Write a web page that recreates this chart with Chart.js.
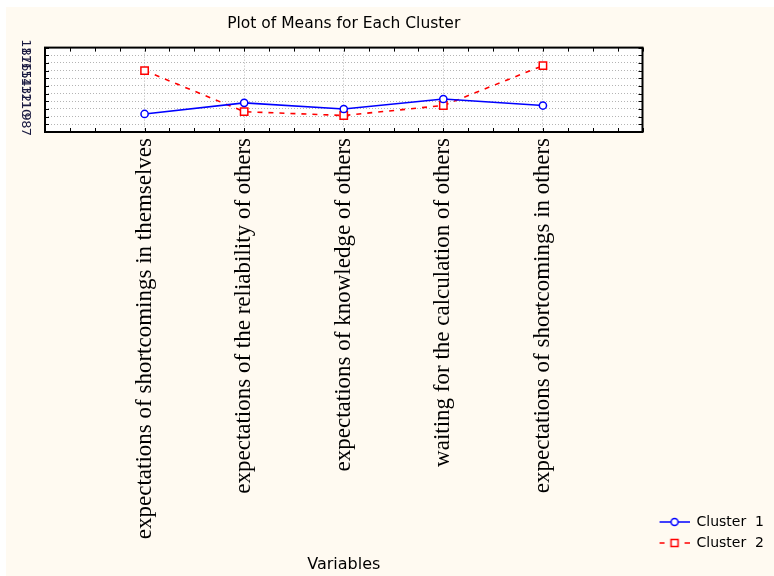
<!DOCTYPE html>
<html>
<head>
<meta charset="utf-8">
<script src="https://cdn.jsdelivr.net/npm/chart.js@4.4.1/dist/chart.umd.min.js"></script>
<style>
  html, body { margin: 0; padding: 0; background: #fff; }
  #wrap { position: absolute; left: 6px; top: 7px; width: 768px; height: 569px; background: #fffaf1; }
</style>
</head>
<body>
<div id="wrap"><canvas id="myChart"></canvas></div>
<script>
// values
const variables = [
  'expectations of shortcomings in themselves',
  'expectations of the reliability of others',
  'expectations of knowledge of others',
  'waiting for the calculation of others',
  'expectations of shortcomings in others'
];
const cluster1 = [9.35, 10.8, 10.0, 11.3, 10.45];
const cluster2 = [15.0, 9.65, 9.15, 10.45, 15.65];
const seriesNames = ['Cluster  1', 'Cluster  2'];
const yMin = 7;
const yMax = 18;

const dotGrid = '#b4b4b4';
const sans = 'DejaVu Sans';

// categories sit at x = 1..5 on an axis running 0..6
function toPoints(values) {
  return values.map((v, i) => ({ x: i + 1, y: v }));
}

// small line + marker picture for the legend
function legendMark(color, dashed, shape) {
  const c = document.createElement('canvas');
  c.width = 40;
  c.height = 14;
  const g = c.getContext('2d');
  g.strokeStyle = color;
  g.lineWidth = 1.5;
  g.beginPath();
  if (dashed) {
    g.moveTo(10, 7); g.lineTo(15, 7);
    g.moveTo(35, 7); g.lineTo(40, 7);
  } else {
    g.moveTo(10, 7); g.lineTo(40, 7);
  }
  g.stroke();
  g.fillStyle = '#fff';
  g.beginPath();
  if (shape === 'circle') {
    g.arc(25, 7, 3.5, 0, Math.PI * 2);
  } else {
    g.rect(21.5, 3.5, 7, 7);
  }
  g.fill();
  g.stroke();
  return c;
}
const legendMarks = [legendMark('#0000ff', false, 'circle'), legendMark('#ff0000', true, 'rect')];

// white plot area, black frame and the little inner tick marks
const framePlugin = {
  id: 'frame',
  beforeDraw(chart) {
    const { ctx, chartArea: a } = chart;
    ctx.save();
    ctx.fillStyle = '#fff';
    ctx.fillRect(a.left, a.top, a.right - a.left, a.bottom - a.top);
    ctx.restore();
  },
  afterDraw(chart) {
    const { ctx, chartArea: a, scales: { x, y } } = chart;
    ctx.save();
    ctx.strokeStyle = '#000';
    ctx.lineWidth = 1;
    ctx.beginPath();
    for (let v = 0; v <= 6; v += 0.25) {
      const px = Math.round(x.getPixelForValue(v)) + 0.5;
      ctx.moveTo(px, a.top); ctx.lineTo(px, a.top + 4);
      ctx.moveTo(px, a.bottom); ctx.lineTo(px, a.bottom - 4);
    }
    for (let v = yMin; v <= yMax; v++) {
      const py = Math.round(y.getPixelForValue(v)) + 0.5;
      ctx.moveTo(a.left, py); ctx.lineTo(a.left + 4, py);
      ctx.moveTo(a.right, py); ctx.lineTo(a.right - 4, py);
    }
    ctx.stroke();
    ctx.lineWidth = 2;
    ctx.strokeRect(a.left, a.top, a.right - a.left, a.bottom - a.top);
    ctx.restore();
  }
};

const ctx = document.getElementById('myChart').getContext('2d');
new Chart(ctx, {
  type: 'line',
  data: {
    datasets: [{
      label: seriesNames[0],
      data: toPoints(cluster1),
      borderColor: '#0000ff',
      borderWidth: 1.6,
      pointStyle: 'circle',
      pointRadius: 3.6,
      pointBorderWidth: 1.5,
      pointBackgroundColor: '#fff',
      tension: 0
    }, {
      label: seriesNames[1],
      data: toPoints(cluster2),
      borderColor: '#ff0000',
      borderWidth: 1.6,
      borderDash: [5, 6],
      pointStyle: 'rect',
      pointRadius: 5.2,
      pointBorderWidth: 1.5,
      pointBackgroundColor: '#fff',
      tension: 0
    }]
  },
  options: {
    responsive: true,
    maintainAspectRatio: false,
    animation: false,
    layout: { padding: { left: 0, right: 0, top: 0, bottom: 19 } },
    plugins: {
      title: {
        display: true,
        text: 'Plot of Means for Each Cluster',
        fullSize: false,
        color: '#000',
        font: { family: sans, size: 15.5, weight: 'normal' },
        padding: { top: 8, bottom: 14 }
      },
      legend: {
        position: 'right',
        align: 'end',
        labels: {
          usePointStyle: true,
          pointStyleWidth: 40,
          padding: 7,
          color: '#000',
          font: { family: sans, size: 14 },
          generateLabels: chart => chart.data.datasets.map((ds, i) => ({
            text: ds.label,
            pointStyle: legendMarks[i],
            fillStyle: 'transparent',
            strokeStyle: 'transparent',
            lineWidth: 0,
            fontColor: '#000',
            hidden: false,
            datasetIndex: i
          }))
        }
      },
      tooltip: { enabled: false }
    },
    scales: {
      x: {
        type: 'linear',
        min: 0,
        max: 6,
        afterFit: scale => { scale.height = 425; },
        ticks: {
          stepSize: 1,
          autoSkip: false,
          minRotation: 90,
          maxRotation: 90,
          padding: 6,
          color: '#000',
          font: { family: 'Liberation Serif', size: 23 },
          callback: v => variables[v - 1] || ''
        },
        grid: {
          drawTicks: false,
          color: c => (c.tick && c.tick.value >= 1 && c.tick.value <= 5) ? dotGrid : 'rgba(0,0,0,0)'
        },
        border: { display: false, dash: [1, 2] },
        title: {
          display: true,
          text: 'Variables',
          color: '#000',
          font: { family: sans, size: 16 },
          padding: { top: 0, bottom: -17 }
        }
      },
      y: {
        min: yMin,
        max: yMax,
        afterFit: scale => { scale.width = 39; },
        ticks: {
          stepSize: 1,
          autoSkip: false,
          minRotation: -90,
          maxRotation: -90,
          crossAlign: 'center',
          padding: 11,
          color: '#1a1a40',
          font: { family: sans, size: 13 }
        },
        grid: {
          drawTicks: false,
          color: c => (c.tick && c.tick.value > yMin && c.tick.value < yMax) ? dotGrid : 'rgba(0,0,0,0)'
        },
        border: { display: false, dash: [1, 2] }
      }
    }
  },
  plugins: [framePlugin]
});
</script>
</body>
</html>
